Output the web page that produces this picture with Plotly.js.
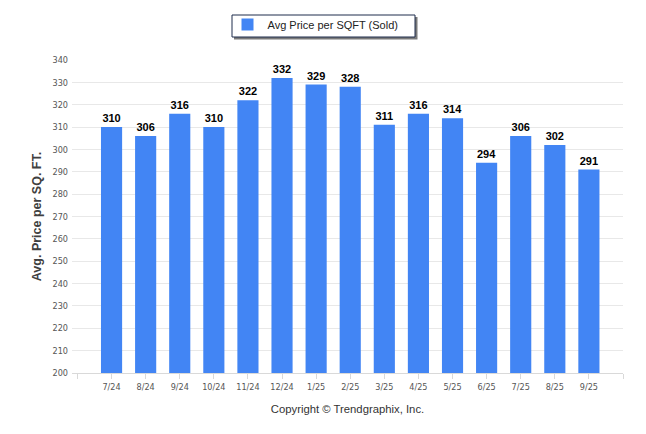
<!DOCTYPE html>
<html>
<head>
<meta charset="utf-8">
<script src="https://cdn.plot.ly/plotly-3.0.1.min.js"></script>
<style>html,body{margin:0;padding:0;background:#fff;}#chart{width:646px;height:434px;}</style>
</head>
<body>
<div id="chart"></div>
<script>
const months = ["7/24","8/24","9/24","10/24","11/24","12/24","1/25","2/25","3/25","4/25","5/25","6/25","7/25","8/25","9/25"];
const avgPriceSold = [310,306,316,310,322,332,329,328,311,316,314,294,306,302,291];
const seriesName = "Avg Price per SQFT (Sold)";
const yTitle = "Avg. Price per SQ. FT.";
const xTitle = "Copyright \u00A9 Trendgraphix, Inc.";

const xIdx = months.map((_, i) => i);
const tickVals = [-1].concat(xIdx, [months.length]);
const tickText = [""].concat(months, [""]);

const trace = {
  type: "bar",
  x: xIdx,
  y: avgPriceSold,
  name: seriesName,
  width: 0.62,
  marker: {color: "#4285F4"},
  text: avgPriceSold.map(String),
  textposition: "outside",
  cliponaxis: false,
  textfont: {family: "Liberation Sans, Arial, sans-serif", size: 11, color: "#000", weight: "bold"},
  hoverinfo: "skip",
  showlegend: true
};

const W = 646, H = 434, L = 72, R = 23, T = 60, B = 61;
const pw = W - L - R, ph = H - T - B;
const px = v => (v - L) / pw;
const py = v => (H - B - v) / ph;

// legend frame (box + drop shadow)
const boxL = 232, boxR = 415, boxT = 15, boxB = 37;
const shapes = [
  {type: "rect", xref: "paper", yref: "paper", layer: "above",
   x0: px(boxL + 2), x1: px(boxR + 2.5), y0: py(boxT + 2), y1: py(boxB + 2.5),
   fillcolor: "#7a7a7a", line: {width: 0}},
  {type: "rect", xref: "paper", yref: "paper", layer: "above",
   x0: px(boxL), x1: px(boxR), y0: py(boxT), y1: py(boxB),
   fillcolor: "#ffffff", line: {color: "#1f2d4d", width: 1}}
];

const layout = {
  width: W, height: H,
  margin: {l: L, r: R, t: T, b: B, pad: 0},
  paper_bgcolor: "#fff", plot_bgcolor: "#fff",
  font: {family: "DejaVu Sans Condensed, DejaVu Sans, sans-serif", size: 9, color: "#555"},
  showlegend: true,
  legend: {
    orientation: "h",
    x: px(315.5), xanchor: "center",
    yref: "container", y: 1 - 10/H, yanchor: "top",
    bgcolor: "rgba(0,0,0,0)", borderwidth: 0,
    font: {family: "Liberation Sans, Arial, sans-serif", size: 11, color: "#222"}
  },
  shapes: shapes,
  xaxis: {
    type: "linear",
    range: [-1.16, 15.0],
    tickmode: "array", tickvals: tickVals, ticktext: tickText,
    ticks: "outside", ticklen: 5, tickcolor: "#d9d9d9", tickwidth: 1,
    showline: true, linecolor: "#d9d9d9", linewidth: 1,
    showgrid: false, zeroline: false,
    tickfont: {family: "DejaVu Sans Condensed, DejaVu Sans, sans-serif", size: 9, color: "#555"},
    title: {text: xTitle, standoff: 14, font: {family: "Liberation Sans, Arial, sans-serif", size: 11.3, color: "#333"}},
    fixedrange: true
  },
  yaxis: {
    range: [200, 340], dtick: 10, tick0: 200,
    showgrid: true, gridcolor: "#e8e8e8", gridwidth: 1,
    zeroline: false, showline: false,
    ticks: "", ticklabelstandoff: 3,
    tickfont: {family: "DejaVu Sans Condensed, DejaVu Sans, sans-serif", size: 9, color: "#555"},
    title: {text: yTitle, standoff: 8, font: {family: "Liberation Sans, Arial, sans-serif", size: 12.5, color: "#404040", weight: "bold"}},
    fixedrange: true
  },
  bargap: 0.38
};

Plotly.newPlot("chart", [trace], layout, {displayModeBar: false, staticPlot: true});
</script>
</body>
</html>
